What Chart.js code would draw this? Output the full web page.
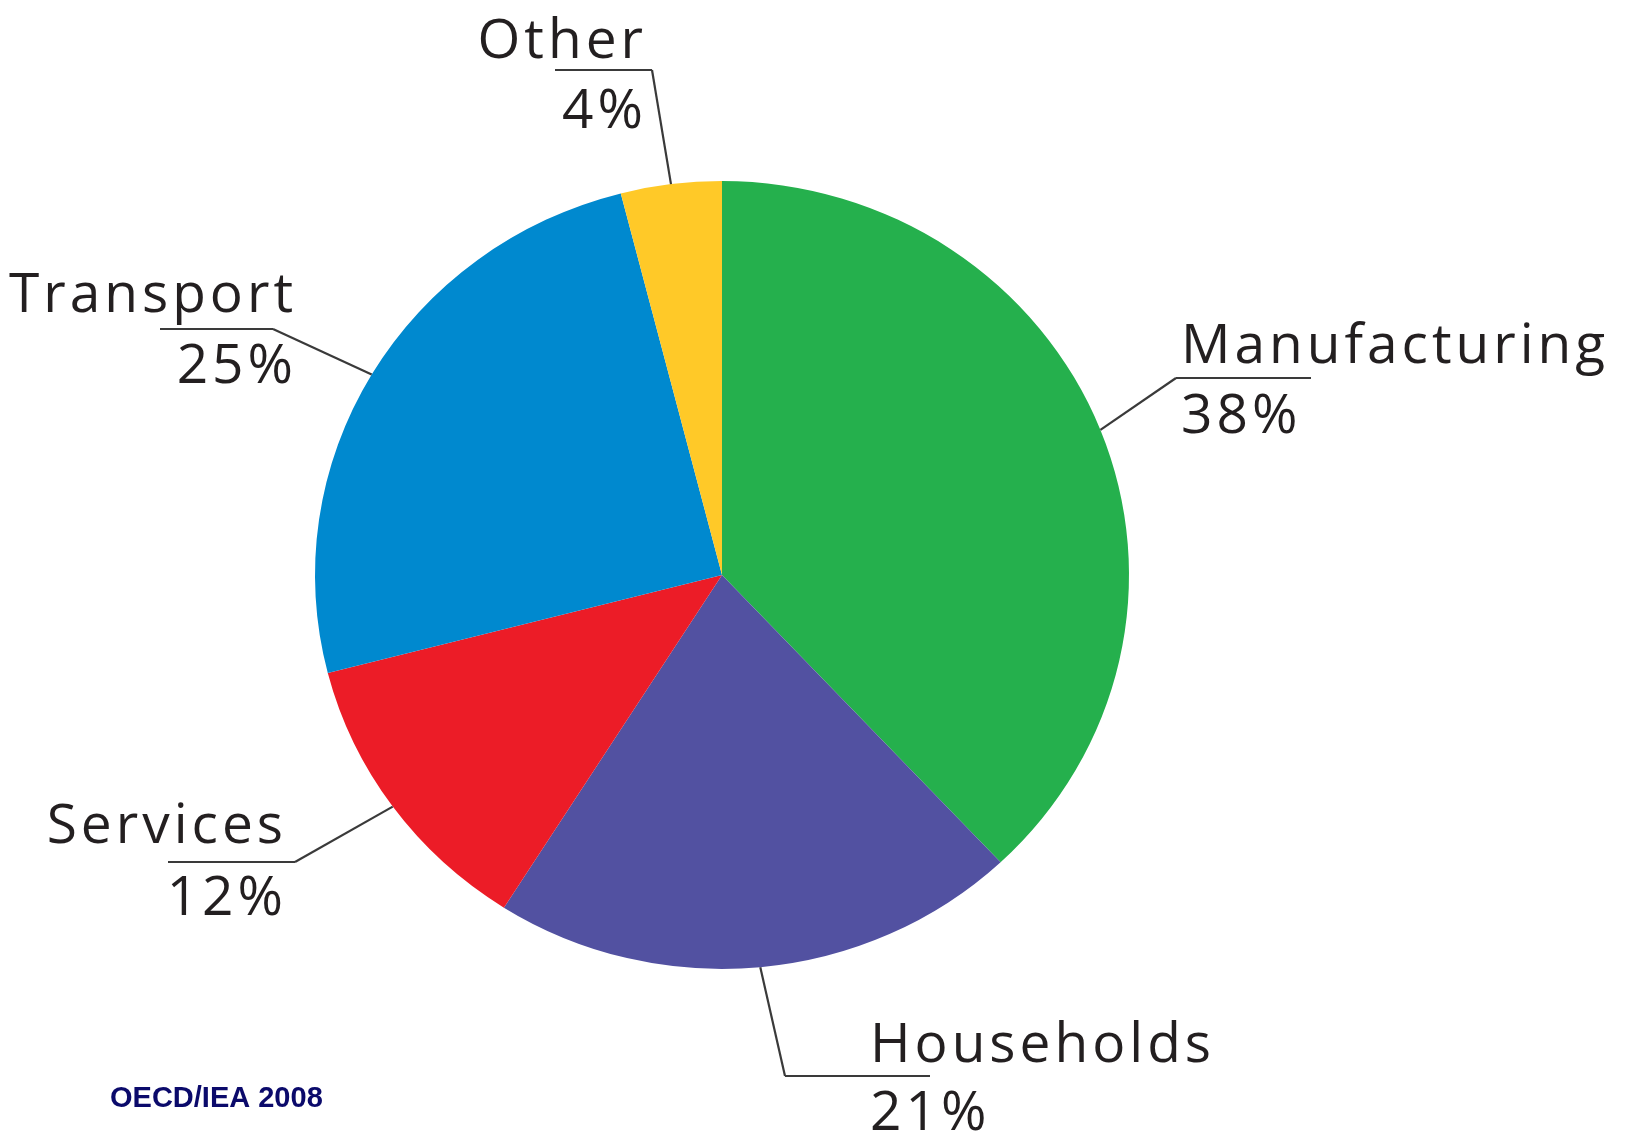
<!DOCTYPE html>
<html>
<head>
<meta charset="utf-8">
<script src="https://cdn.jsdelivr.net/npm/chart.js@4/dist/chart.umd.min.js"></script>
<style>
  html, body { margin: 0; padding: 0; background: #fff; }
  #wrap { width: 1625px; height: 1134px; position: relative; }
</style>
</head>
<body>
<div id="wrap"><canvas id="pieChart" width="1625" height="1134"></canvas></div>
<script>
// Data dari gambar
const sectors = ['Manufacturing', 'Households', 'Services', 'Transport', 'Other'];
const shares = [38, 21, 12, 25, 4];
const sectorColors = ['#25B04D', '#5251A1', '#EC1C27', '#0089CF', '#FFC928'];
const sourceNote = 'OECD/IEA 2008';

// Pie aslinya sedikit lebih lebar daripada tingginya
const stretchX = 1.033;

// Posisi label (teks, garis bawah, titik siku)
const labelPos = [
    { align: 'left',  x: 1181, nameY: 363,  pctY: 433,  lineY: 378,  u1: 1176, u2: 1311, elbowX: 1176 },
    { align: 'left',  x: 870,  nameY: 1062, pctY: 1130, lineY: 1076, u1: 785,  u2: 930,  elbowX: 785 },
    { align: 'right', x: 287,  nameY: 843,  pctY: 915,  lineY: 862,  u1: 168,  u2: 295,  elbowX: 295 },
    { align: 'right', x: 297,  nameY: 312,  pctY: 383,  lineY: 329,  u1: 160,  u2: 273,  elbowX: 273 },
    { align: 'right', x: 647,  nameY: 58,   pctY: 128,  lineY: 70,   u1: 555,  u2: 652,  elbowX: 652 }
];

const stretchPlugin = {
    id: 'stretch',
    beforeDatasetsDraw(chart) {
        const ctx = chart.ctx;
        const cx = (chart.chartArea.left + chart.chartArea.right) / 2;
        ctx.save();
        ctx.translate(cx, 0);
        ctx.scale(stretchX, 1);
        ctx.translate(-cx, 0);
    },
    afterDatasetsDraw(chart) {
        chart.ctx.restore();
    }
};

const calloutPlugin = {
    id: 'callouts',
    afterDraw(chart) {
        const ctx = chart.ctx;
        const meta = chart.getDatasetMeta(0);
        ctx.save();
        meta.data.forEach(function(arc, i) {
            const p = arc.getProps(['x', 'y', 'startAngle', 'endAngle', 'outerRadius'], true);
            const mid = (p.startAngle + p.endAngle) / 2;
            const ax = p.x + Math.cos(mid) * p.outerRadius * stretchX;
            const ay = p.y + Math.sin(mid) * p.outerRadius;
            const pos = labelPos[i];

            // Garis penunjuk
            ctx.strokeStyle = '#3a3a3a';
            ctx.lineWidth = 2.2;
            ctx.beginPath();
            ctx.moveTo(ax, ay);
            ctx.lineTo(pos.elbowX, pos.lineY);
            ctx.stroke();
            ctx.beginPath();
            ctx.moveTo(pos.u1, pos.lineY);
            ctx.lineTo(pos.u2, pos.lineY);
            ctx.stroke();

            // Teks
            ctx.fillStyle = '#231F20';
            ctx.font = '400 55px "Open Sans"';
            ctx.letterSpacing = '4px';
            ctx.textAlign = pos.align;
            ctx.textBaseline = 'alphabetic';
            ctx.fillText(sectors[i], pos.x, pos.nameY);
            ctx.fillText(shares[i] + '%', pos.x, pos.pctY);
        });

        ctx.letterSpacing = '0px';
        ctx.fillStyle = '#0B0A6B';
        ctx.font = 'bold 29px "Liberation Sans", Arial, sans-serif';
        ctx.textAlign = 'left';
        ctx.fillText(sourceNote, 110, 1107);
        ctx.restore();
    }
};

const ctx = document.getElementById('pieChart').getContext('2d');
new Chart(ctx, {
    type: 'pie',
    data: {
        labels: sectors,
        datasets: [{
            data: shares,
            backgroundColor: sectorColors,
            borderWidth: 0
        }]
    },
    options: {
        responsive: false,
        animation: false,
        layout: {
            padding: { left: 328, right: 509, top: 181, bottom: 165 }
        },
        plugins: {
            legend: { display: false },
            tooltip: { enabled: false }
        }
    },
    plugins: [stretchPlugin, calloutPlugin]
});
</script>
</body>
</html>
